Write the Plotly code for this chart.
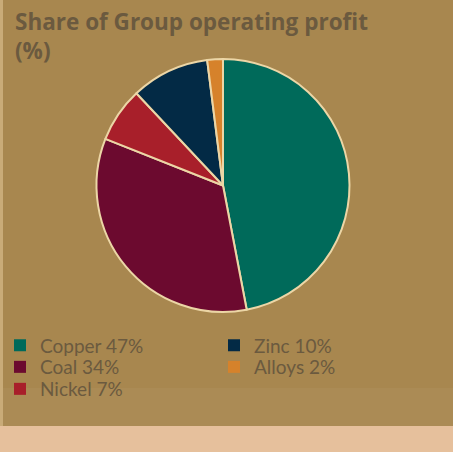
import plotly.graph_objects as go

# Data
categories = ["Copper", "Coal", "Nickel", "Zinc", "Alloys"]
values = [47, 34, 7, 10, 2]
colors = ["#006a5a", "#6c0a2f", "#a81f2a", "#032a45", "#d6822b"]
# legend layout: rows of category names
legend_rows = [["Copper", "Zinc"], ["Coal", "Alloys"], ["Nickel"]]

title_text = "Share of Group operating profit<br>(%)"

BG = "#a8874f"
BAND = "#ab8b55"
STRIP = "#e6c09c"
TXT = "#6b5a3f"
W, H = 453, 452

fig = go.Figure()

fig.add_trace(go.Pie(
    labels=categories,
    values=values,
    marker=dict(colors=colors, line=dict(color="#ecd6a6", width=2)),
    sort=False,
    direction="clockwise",
    rotation=0,
    textinfo="none",
    hoverinfo="label+percent",
    showlegend=False,
    domain=dict(x=[96/W, 350/W], y=[1-312/H, 1-59/H]),
))

row_centers = [345.5, 367, 389]
legend_layouts = {}
for r, row in enumerate(legend_rows):
    lname = "legend" if r == 0 else f"legend{r+1}"
    for name in row:
        i = categories.index(name)
        fig.add_trace(go.Bar(
            x=[None], y=[None],
            name=f"{name} {values[i]}%",
            marker=dict(color=colors[i], line=dict(width=0)),
            legend=lname,
            showlegend=True,
        ))
    legend_layouts[lname] = dict(
        orientation="h",
        x=0, xanchor="left",
        y=1-row_centers[r]/H, yanchor="middle",
        entrywidth=169, entrywidthmode="pixels",
        font=dict(family="Lato", size=19, color=TXT),
        bgcolor="rgba(0,0,0,0)",
        borderwidth=0,
        itemclick=False,
        itemdoubleclick=False,
    )

fig.update_layout(
    width=W, height=H,
    margin=dict(l=0, r=0, t=0, b=0, pad=0, autoexpand=False),
    paper_bgcolor=BG,
    plot_bgcolor=BG,
    xaxis=dict(visible=False),
    yaxis=dict(visible=False),
    title=dict(
        text=title_text,
        x=15/W, xanchor="left",
        y=1-30/H, yanchor="top",
        font=dict(family="Open Sans", size=22.5, color=TXT, weight=700),
    ),
    font=dict(family="Lato", color=TXT),
    shapes=[
        dict(type="rect", xref="paper", yref="paper",
             x0=0, x1=1, y0=1-426/H, y1=1-388/H,
             fillcolor=BAND, line=dict(width=0), layer="below"),
        dict(type="rect", xref="paper", yref="paper",
             x0=0, x1=1, y0=0, y1=1-426/H,
             fillcolor=STRIP, line=dict(width=0), layer="below"),
        dict(type="rect", xref="paper", yref="paper",
             x0=0, x1=3/W, y0=1-426/H, y1=1,
             fillcolor="#c9ab78", line=dict(width=0), layer="below"),
    ],
    **legend_layouts,
)

bg_css = f"linear-gradient(to bottom, {BG} 0px, {BG} 426px, {STRIP} 426px, {STRIP} 100%)"
fig.write_html(
    "out.html",
    config={"displayModeBar": False},
    post_script=(
        "document.documentElement.style.overflow='hidden';"
        f"document.documentElement.style.background='{bg_css}';"
        "document.documentElement.style.minHeight='100%';"
        "document.body.style.margin='0px';"
        "document.body.style.overflow='hidden';"
        "document.body.style.background='transparent';"
    ),
)
